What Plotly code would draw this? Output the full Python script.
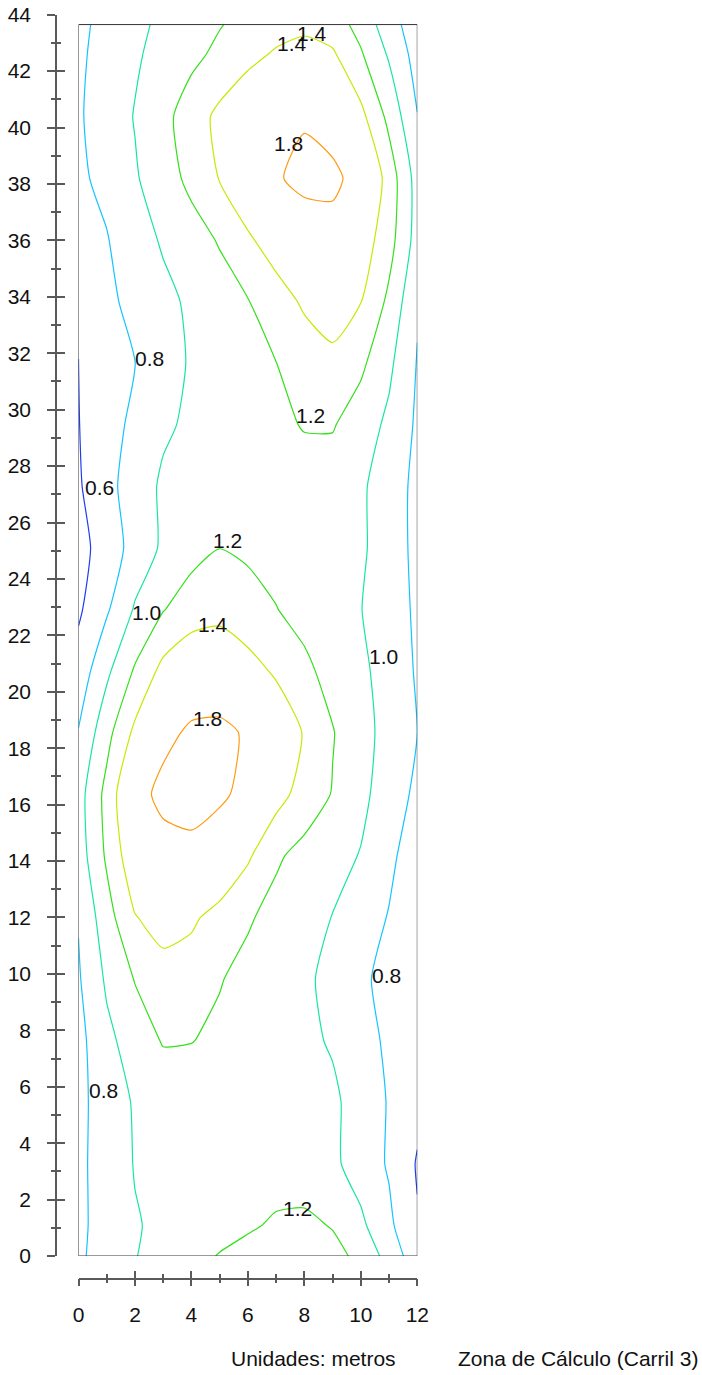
import plotly.graph_objects as go

# Calculation grid (metres)
x_coords = [0, 1, 2, 3, 4, 5, 6, 7, 8, 9, 10, 11, 12]
y_coords = [0, 1.09, 3.27, 5.46, 7.64, 9.82, 12.0, 14.19, 16.37, 18.55, 20.74,
            22.92, 25.1, 27.29, 29.47, 31.65, 33.84, 36.02, 38.2, 40.39, 42.57, 43.65]

# Values per row (bottom to top), one value per x column
row_00 = [0.77, 0.88, 0.993, 1.07, 1.14, 1.21, 1.25, 1.27, 1.28, 1.25, 1.16, 0.92, 0.685]
row_01 = [0.76, 0.877, 0.986, 1.04, 1.086, 1.13, 1.18, 1.22, 1.235, 1.19, 1.04, 0.84, 0.615]
row_02 = [0.76, 0.884, 1.01, 1.06, 1.1, 1.13, 1.14, 1.13, 1.11, 1.04, 0.91, 0.78, 0.585]
row_03 = [0.75, 0.893, 1.02, 1.07, 1.1, 1.12, 1.12, 1.1, 1.07, 1.03, 0.93, 0.784, 0.65]
row_04 = [0.74, 0.953, 1.09, 1.215, 1.205, 1.166, 1.12, 1.08, 1.035, 0.984, 0.875, 0.765, 0.7]
row_05 = [0.78, 1.03, 1.21, 1.32, 1.31, 1.21, 1.147, 1.09, 1.03, 0.953, 0.842, 0.73, 0.65]
row_06 = [0.81, 1.12, 1.39, 1.48, 1.43, 1.335, 1.22, 1.14, 1.07, 0.995, 0.89, 0.79, 0.68]
row_07 = [0.9, 1.23, 1.55, 1.65, 1.7, 1.58, 1.43, 1.227, 1.14, 1.07, 0.99, 0.84, 0.7]
row_08 = [0.92, 1.26, 1.66, 1.9, 1.94, 1.86, 1.7, 1.48, 1.315, 1.19, 1.05, 0.9, 0.76]
row_09 = [0.81, 1.135, 1.445, 1.70, 1.86, 1.88, 1.76, 1.56, 1.384, 1.21, 1.07, 0.93, 0.8]
row_10 = [0.68, 0.96, 1.223, 1.46, 1.55, 1.56, 1.48, 1.37, 1.24, 1.136, 1.04, 0.92, 0.78]
row_11 = [0.57, 0.775, 1.02, 1.19, 1.31, 1.34, 1.27, 1.205, 1.14, 1.07, 1.005, 0.89, 0.77]
row_12 = [0.54, 0.68, 0.88, 1.03, 1.125, 1.198, 1.17, 1.14, 1.11, 1.08, 1.03, 0.9, 0.75]
row_13 = [0.58, 0.737, 0.90, 1.03, 1.07, 1.1, 1.12, 1.13, 1.13, 1.1, 1.03, 0.90, 0.75]
row_14 = [0.595, 0.72, 0.846, 0.97, 1.033, 1.077, 1.12, 1.165, 1.21, 1.215, 1.098, 0.96, 0.77]
row_15 = [0.595, 0.70, 0.799, 0.92, 1.02, 1.08, 1.14, 1.198, 1.29, 1.36, 1.24, 1.04, 0.79]
row_16 = [0.67, 0.76, 0.854, 0.948, 1.035, 1.113, 1.192, 1.31, 1.43, 1.48, 1.405, 1.158, 0.82]
row_17 = [0.72, 0.79, 0.91, 1.023, 1.117, 1.217, 1.37, 1.5, 1.62, 1.68, 1.515, 1.276, 0.92]
row_18 = [0.77, 0.846, 0.98, 1.11, 1.25, 1.41, 1.565, 1.77, 1.88, 1.87, 1.68, 1.31, 0.92]
row_19 = [0.78, 0.886, 1.01, 1.144, 1.296, 1.45, 1.59, 1.72, 1.77, 1.66, 1.455, 1.146, 0.806]
row_20 = [0.77, 0.867, 0.975, 1.067, 1.155, 1.244, 1.336, 1.43, 1.5, 1.43, 1.223, 0.978, 0.72]
row_21 = [0.76, 0.853, 0.953, 1.04, 1.116, 1.19, 1.26, 1.31, 1.34, 1.30, 1.13, 0.89, 0.68]

z_rows = [row_00, row_01, row_02, row_03, row_04, row_05, row_06, row_07, row_08, row_09,
          row_10, row_11, row_12, row_13, row_14, row_15, row_16, row_17, row_18, row_19,
          row_20, row_21]

levels = [0.6, 0.8, 1.0, 1.2, 1.4, 1.8]
level_colors = ["#1f3cf0", "#12c4ff", "#18e6a0", "#33e01a", "#c4ea00", "#ff9a10"]

label_texts = ["1.4", "1.4", "0.8", "1.8", "0.8", "1.2", "0.6", "0.8", "1.2", "1.0",
               "1.4", "1.0", "1.8", "0.8", "0.8", "0.6", "1.2"]
label_x = [8.26, 7.55, 12.21, 7.43, 2.53, 8.2, 0.73, 12.21, 5.28, 2.41,
           4.78, 10.82, 4.56, 10.92, 0.88, 12.47, 7.75]
label_y = [43.34, 42.99, 42.54, 39.44, 31.82, 29.81, 27.25, 26.98, 25.36, 22.8,
           22.37, 21.25, 19.06, 9.96, 5.86, 2.95, 1.69]

area_width = 12
area_length = 43.65
x_ticks = [0, 2, 4, 6, 8, 10, 12]
y_ticks = list(range(0, 45, 2))

W, H = 702, 1375
FONT = "Liberation Sans, Arial, sans-serif"
AX_COL = "#5a5a5a"


def px(x):
    return x / W


def py(y):
    return (H - y) / H


fig = go.Figure()
for lev, col in zip(levels, level_colors):
    fig.add_trace(go.Contour(
        x=x_coords, y=y_coords, z=z_rows,
        autocontour=False,
        contours=dict(start=lev, end=lev, size=0.1, coloring="none", showlabels=False),
        line=dict(color=col, width=1.2, smoothing=0.6),
        showscale=False, hoverinfo="skip",
    ))

# helper trace for the overlaid (inside-tick) axes
fig.add_trace(go.Scatter(x=[None], y=[None], xaxis="x2", yaxis="y2",
                         showlegend=False, hoverinfo="skip"))

for t, lx, ly in zip(label_texts, label_x, label_y):
    fig.add_annotation(x=lx, y=ly, xref="x", yref="y", text=t, showarrow=False,
                       font=dict(family=FONT, size=21, color="#111"),
                       xanchor="center", yanchor="middle")

# plot frame
fig.add_shape(type="rect", xref="x", yref="y", x0=0, y0=0, x1=area_width, y1=area_length,
              line=dict(color="#333", width=1))

x_dom = [px(78.5), px(417.3)]
y_dom = [py(1256), py(14.7)]

common_x = dict(domain=x_dom, range=[0, 12], anchor="free", position=py(1278.7),
                showgrid=False, zeroline=False, showline=True, linecolor=AX_COL, linewidth=1.5,
                tickvals=x_ticks, tickcolor=AX_COL, tickwidth=1.5, ticklen=7,
                fixedrange=True, automargin=False, ticklabeloverflow="allow")
common_y = dict(domain=y_dom, range=[0, 44], anchor="free", position=px(56),
                showgrid=False, zeroline=False, showline=True, linecolor=AX_COL, linewidth=1.5,
                tickvals=y_ticks, tickcolor=AX_COL, tickwidth=1.5, ticklen=8,
                fixedrange=True, automargin=False, ticklabeloverflow="allow")

fig.update_layout(
    width=W, height=H,
    margin=dict(l=0, r=0, t=0, b=0),
    paper_bgcolor="white", plot_bgcolor="white",
    showlegend=False,
    font=dict(family=FONT, size=21, color="#111"),
    xaxis=dict(**common_x, ticks="outside",
               minor=dict(dtick=1, tick0=0, ticks="outside", ticklen=3.5,
                          tickcolor=AX_COL, tickwidth=1.5),
               tickfont=dict(family=FONT, size=21, color="#111"), ticklabelstandoff=10),
    yaxis=dict(**common_y, ticks="outside",
               minor=dict(dtick=1, tick0=0, ticks="outside", ticklen=4,
                          tickcolor=AX_COL, tickwidth=1.5),
               tickfont=dict(family=FONT, size=21, color="#111"), ticklabelstandoff=12),
    xaxis2=dict(**common_x, ticks="inside", overlaying="x", showticklabels=False,
                minor=dict(dtick=1, tick0=0, ticks="inside", ticklen=3.5,
                           tickcolor=AX_COL, tickwidth=1.5)),
    yaxis2=dict(**common_y, ticks="inside", overlaying="y", showticklabels=False,
                minor=dict(dtick=1, tick0=0, ticks="inside", ticklen=4,
                           tickcolor=AX_COL, tickwidth=1.5)),
)

fig.add_annotation(x=px(313), y=py(1358), xref="paper", yref="paper",
                   text="Unidades: metros", showarrow=False,
                   font=dict(family=FONT, size=21, color="#111"),
                   xanchor="center", yanchor="middle")
fig.add_annotation(x=px(700), y=py(1358), xref="paper", yref="paper",
                   text="Zona de Cálculo (Carril 3)", showarrow=False,
                   font=dict(family=FONT, size=21, color="#111"),
                   xanchor="right", yanchor="middle")

fig.write_html(
    "out.html",
    config={"displayModeBar": False},
    post_script="document.body.style.margin='0';document.body.style.overflow='hidden';",
)
